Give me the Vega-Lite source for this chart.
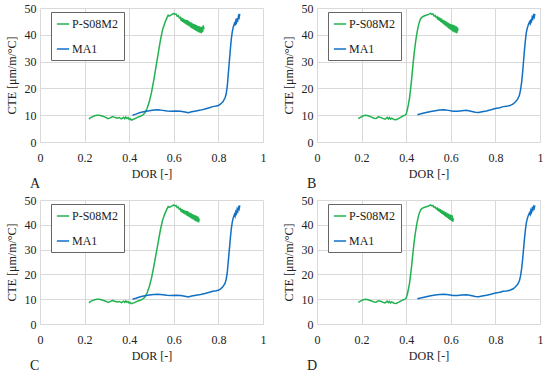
{
  "$schema": "https://vega.github.io/schema/vega-lite/v6.json",
  "padding": {"left": 5, "top": 2, "right": 0, "bottom": 0},
  "background": "white",
  "datasets": {
    "A": [
      {"s":"P-S08M2","x":0.220,"y":8.5},{"s":"P-S08M2","x":0.225,"y":9.0},{"s":"P-S08M2","x":0.235,"y":9.4},{"s":"P-S08M2","x":0.245,"y":9.8},{"s":"P-S08M2","x":0.255,"y":10.0},{"s":"P-S08M2","x":0.265,"y":10.0},{"s":"P-S08M2","x":0.275,"y":9.8},{"s":"P-S08M2","x":0.285,"y":9.5},{"s":"P-S08M2","x":0.295,"y":9.2},{"s":"P-S08M2","x":0.305,"y":8.7},{"s":"P-S08M2","x":0.315,"y":9.0},{"s":"P-S08M2","x":0.325,"y":9.5},{"s":"P-S08M2","x":0.335,"y":9.2},{"s":"P-S08M2","x":0.345,"y":8.9},{"s":"P-S08M2","x":0.355,"y":9.1},{"s":"P-S08M2","x":0.365,"y":8.6},{"s":"P-S08M2","x":0.375,"y":9.2},{"s":"P-S08M2","x":0.380,"y":8.7},{"s":"P-S08M2","x":0.385,"y":9.3},{"s":"P-S08M2","x":0.390,"y":8.8},{"s":"P-S08M2","x":0.395,"y":9.1},{"s":"P-S08M2","x":0.400,"y":8.4},{"s":"P-S08M2","x":0.405,"y":8.7},{"s":"P-S08M2","x":0.410,"y":8.2},{"s":"P-S08M2","x":0.420,"y":8.5},{"s":"P-S08M2","x":0.430,"y":8.9},{"s":"P-S08M2","x":0.440,"y":9.3},{"s":"P-S08M2","x":0.450,"y":9.6},{"s":"P-S08M2","x":0.460,"y":10.0},{"s":"P-S08M2","x":0.470,"y":10.8},{"s":"P-S08M2","x":0.480,"y":12.5},{"s":"P-S08M2","x":0.490,"y":15.0},{"s":"P-S08M2","x":0.500,"y":18.5},{"s":"P-S08M2","x":0.510,"y":23.0},{"s":"P-S08M2","x":0.520,"y":28.0},{"s":"P-S08M2","x":0.530,"y":33.0},{"s":"P-S08M2","x":0.540,"y":38.0},{"s":"P-S08M2","x":0.550,"y":42.0},{"s":"P-S08M2","x":0.560,"y":44.5},{"s":"P-S08M2","x":0.570,"y":46.5},{"s":"P-S08M2","x":0.575,"y":47.3},{"s":"P-S08M2","x":0.580,"y":47.0},{"s":"P-S08M2","x":0.590,"y":47.5},{"s":"P-S08M2","x":0.600,"y":48.0},{"s":"P-S08M2","x":0.605,"y":47.6},{"s":"P-S08M2","x":0.610,"y":47.8},{"s":"P-S08M2","x":0.615,"y":47.0},{"s":"P-S08M2","x":0.620,"y":47.2},{"s":"P-S08M2","x":0.625,"y":46.3},{"s":"P-S08M2","x":0.630,"y":46.5},{"s":"P-S08M2","x":0.633,"y":45.2},{"s":"P-S08M2","x":0.636,"y":46.3},{"s":"P-S08M2","x":0.639,"y":44.8},{"s":"P-S08M2","x":0.642,"y":46.0},{"s":"P-S08M2","x":0.645,"y":44.5},{"s":"P-S08M2","x":0.648,"y":45.8},{"s":"P-S08M2","x":0.651,"y":44.2},{"s":"P-S08M2","x":0.654,"y":45.6},{"s":"P-S08M2","x":0.657,"y":43.8},{"s":"P-S08M2","x":0.660,"y":45.5},{"s":"P-S08M2","x":0.663,"y":43.5},{"s":"P-S08M2","x":0.666,"y":45.2},{"s":"P-S08M2","x":0.669,"y":43.2},{"s":"P-S08M2","x":0.672,"y":44.8},{"s":"P-S08M2","x":0.675,"y":42.8},{"s":"P-S08M2","x":0.678,"y":44.6},{"s":"P-S08M2","x":0.681,"y":42.5},{"s":"P-S08M2","x":0.684,"y":44.3},{"s":"P-S08M2","x":0.687,"y":42.2},{"s":"P-S08M2","x":0.690,"y":44.0},{"s":"P-S08M2","x":0.693,"y":41.8},{"s":"P-S08M2","x":0.696,"y":43.8},{"s":"P-S08M2","x":0.699,"y":41.5},{"s":"P-S08M2","x":0.702,"y":43.6},{"s":"P-S08M2","x":0.705,"y":41.3},{"s":"P-S08M2","x":0.708,"y":43.3},{"s":"P-S08M2","x":0.711,"y":41.0},{"s":"P-S08M2","x":0.714,"y":43.2},{"s":"P-S08M2","x":0.717,"y":40.8},{"s":"P-S08M2","x":0.720,"y":43.0},{"s":"P-S08M2","x":0.723,"y":40.6},{"s":"P-S08M2","x":0.726,"y":43.0},{"s":"P-S08M2","x":0.729,"y":41.0},{"s":"P-S08M2","x":0.732,"y":43.5},{"s":"P-S08M2","x":0.735,"y":42.0},
      {"s":"MA1","x":0.415,"y":10.0},{"s":"MA1","x":0.430,"y":10.4},{"s":"MA1","x":0.450,"y":11.0},{"s":"MA1","x":0.470,"y":11.4},{"s":"MA1","x":0.490,"y":11.7},{"s":"MA1","x":0.510,"y":11.9},{"s":"MA1","x":0.530,"y":12.0},{"s":"MA1","x":0.550,"y":11.8},{"s":"MA1","x":0.570,"y":11.6},{"s":"MA1","x":0.590,"y":11.5},{"s":"MA1","x":0.610,"y":11.6},{"s":"MA1","x":0.630,"y":11.5},{"s":"MA1","x":0.650,"y":11.2},{"s":"MA1","x":0.665,"y":10.9},{"s":"MA1","x":0.680,"y":11.3},{"s":"MA1","x":0.700,"y":11.6},{"s":"MA1","x":0.720,"y":11.9},{"s":"MA1","x":0.740,"y":12.3},{"s":"MA1","x":0.760,"y":12.8},{"s":"MA1","x":0.775,"y":13.2},{"s":"MA1","x":0.790,"y":13.4},{"s":"MA1","x":0.800,"y":13.6},{"s":"MA1","x":0.810,"y":14.2},{"s":"MA1","x":0.820,"y":15.0},{"s":"MA1","x":0.830,"y":16.5},{"s":"MA1","x":0.835,"y":18.0},{"s":"MA1","x":0.840,"y":21.0},{"s":"MA1","x":0.843,"y":24.0},{"s":"MA1","x":0.847,"y":28.0},{"s":"MA1","x":0.850,"y":31.0},{"s":"MA1","x":0.854,"y":35.0},{"s":"MA1","x":0.858,"y":38.5},{"s":"MA1","x":0.862,"y":41.0},{"s":"MA1","x":0.867,"y":43.0},{"s":"MA1","x":0.872,"y":44.2},{"s":"MA1","x":0.875,"y":43.5},{"s":"MA1","x":0.878,"y":45.2},{"s":"MA1","x":0.881,"y":44.6},{"s":"MA1","x":0.884,"y":46.2},{"s":"MA1","x":0.887,"y":45.5},{"s":"MA1","x":0.890,"y":47.0},{"s":"MA1","x":0.893,"y":46.4},{"s":"MA1","x":0.896,"y":47.8}
    ],
    "C": [
      {"s":"P-S08M2","x":0.220,"y":8.5},{"s":"P-S08M2","x":0.225,"y":9.0},{"s":"P-S08M2","x":0.235,"y":9.4},{"s":"P-S08M2","x":0.245,"y":9.8},{"s":"P-S08M2","x":0.255,"y":10.0},{"s":"P-S08M2","x":0.265,"y":10.0},{"s":"P-S08M2","x":0.275,"y":9.8},{"s":"P-S08M2","x":0.285,"y":9.5},{"s":"P-S08M2","x":0.295,"y":9.2},{"s":"P-S08M2","x":0.305,"y":8.7},{"s":"P-S08M2","x":0.315,"y":9.0},{"s":"P-S08M2","x":0.325,"y":9.5},{"s":"P-S08M2","x":0.335,"y":9.2},{"s":"P-S08M2","x":0.345,"y":8.9},{"s":"P-S08M2","x":0.355,"y":9.1},{"s":"P-S08M2","x":0.365,"y":8.6},{"s":"P-S08M2","x":0.375,"y":9.2},{"s":"P-S08M2","x":0.380,"y":8.7},{"s":"P-S08M2","x":0.385,"y":9.3},{"s":"P-S08M2","x":0.390,"y":8.8},{"s":"P-S08M2","x":0.395,"y":9.1},{"s":"P-S08M2","x":0.400,"y":8.4},{"s":"P-S08M2","x":0.405,"y":8.7},{"s":"P-S08M2","x":0.410,"y":8.2},{"s":"P-S08M2","x":0.420,"y":8.5},{"s":"P-S08M2","x":0.430,"y":8.9},{"s":"P-S08M2","x":0.440,"y":9.3},{"s":"P-S08M2","x":0.450,"y":9.6},{"s":"P-S08M2","x":0.460,"y":10.0},{"s":"P-S08M2","x":0.470,"y":10.8},{"s":"P-S08M2","x":0.480,"y":12.5},{"s":"P-S08M2","x":0.490,"y":15.0},{"s":"P-S08M2","x":0.500,"y":18.5},{"s":"P-S08M2","x":0.510,"y":23.0},{"s":"P-S08M2","x":0.520,"y":28.0},{"s":"P-S08M2","x":0.530,"y":33.0},{"s":"P-S08M2","x":0.540,"y":38.0},{"s":"P-S08M2","x":0.550,"y":42.0},{"s":"P-S08M2","x":0.560,"y":44.5},{"s":"P-S08M2","x":0.570,"y":46.5},{"s":"P-S08M2","x":0.575,"y":47.3},{"s":"P-S08M2","x":0.580,"y":47.0},{"s":"P-S08M2","x":0.590,"y":47.5},{"s":"P-S08M2","x":0.600,"y":48.0},{"s":"P-S08M2","x":0.605,"y":47.6},{"s":"P-S08M2","x":0.610,"y":47.8},{"s":"P-S08M2","x":0.615,"y":47.0},{"s":"P-S08M2","x":0.620,"y":47.2},{"s":"P-S08M2","x":0.625,"y":46.3},{"s":"P-S08M2","x":0.630,"y":46.5},{"s":"P-S08M2","x":0.633,"y":45.2},{"s":"P-S08M2","x":0.636,"y":46.3},{"s":"P-S08M2","x":0.639,"y":44.8},{"s":"P-S08M2","x":0.642,"y":46.0},{"s":"P-S08M2","x":0.645,"y":44.5},{"s":"P-S08M2","x":0.648,"y":45.8},{"s":"P-S08M2","x":0.651,"y":44.2},{"s":"P-S08M2","x":0.654,"y":45.6},{"s":"P-S08M2","x":0.657,"y":43.8},{"s":"P-S08M2","x":0.660,"y":45.5},{"s":"P-S08M2","x":0.663,"y":43.5},{"s":"P-S08M2","x":0.666,"y":45.2},{"s":"P-S08M2","x":0.669,"y":43.2},{"s":"P-S08M2","x":0.672,"y":44.8},{"s":"P-S08M2","x":0.675,"y":42.8},{"s":"P-S08M2","x":0.678,"y":44.6},{"s":"P-S08M2","x":0.681,"y":42.5},{"s":"P-S08M2","x":0.684,"y":44.3},{"s":"P-S08M2","x":0.687,"y":42.2},{"s":"P-S08M2","x":0.690,"y":44.0},{"s":"P-S08M2","x":0.693,"y":41.8},{"s":"P-S08M2","x":0.696,"y":43.8},{"s":"P-S08M2","x":0.699,"y":41.5},{"s":"P-S08M2","x":0.702,"y":43.6},{"s":"P-S08M2","x":0.705,"y":41.3},{"s":"P-S08M2","x":0.708,"y":43.3},{"s":"P-S08M2","x":0.711,"y":41.0},{"s":"P-S08M2","x":0.714,"y":42.6},
      {"s":"MA1","x":0.415,"y":10.0},{"s":"MA1","x":0.430,"y":10.4},{"s":"MA1","x":0.450,"y":11.0},{"s":"MA1","x":0.470,"y":11.4},{"s":"MA1","x":0.490,"y":11.7},{"s":"MA1","x":0.510,"y":11.9},{"s":"MA1","x":0.530,"y":12.0},{"s":"MA1","x":0.550,"y":11.8},{"s":"MA1","x":0.570,"y":11.6},{"s":"MA1","x":0.590,"y":11.5},{"s":"MA1","x":0.610,"y":11.6},{"s":"MA1","x":0.630,"y":11.5},{"s":"MA1","x":0.650,"y":11.2},{"s":"MA1","x":0.665,"y":10.9},{"s":"MA1","x":0.680,"y":11.3},{"s":"MA1","x":0.700,"y":11.6},{"s":"MA1","x":0.720,"y":11.9},{"s":"MA1","x":0.740,"y":12.3},{"s":"MA1","x":0.760,"y":12.8},{"s":"MA1","x":0.775,"y":13.2},{"s":"MA1","x":0.790,"y":13.4},{"s":"MA1","x":0.800,"y":13.6},{"s":"MA1","x":0.810,"y":14.2},{"s":"MA1","x":0.820,"y":15.0},{"s":"MA1","x":0.830,"y":16.5},{"s":"MA1","x":0.835,"y":18.0},{"s":"MA1","x":0.840,"y":21.0},{"s":"MA1","x":0.843,"y":24.0},{"s":"MA1","x":0.847,"y":28.0},{"s":"MA1","x":0.850,"y":31.0},{"s":"MA1","x":0.854,"y":35.0},{"s":"MA1","x":0.858,"y":38.5},{"s":"MA1","x":0.862,"y":41.0},{"s":"MA1","x":0.867,"y":43.0},{"s":"MA1","x":0.872,"y":44.2},{"s":"MA1","x":0.875,"y":43.5},{"s":"MA1","x":0.878,"y":45.2},{"s":"MA1","x":0.881,"y":44.6},{"s":"MA1","x":0.884,"y":46.2},{"s":"MA1","x":0.887,"y":45.5},{"s":"MA1","x":0.890,"y":47.0},{"s":"MA1","x":0.893,"y":46.4},{"s":"MA1","x":0.896,"y":47.8}
    ],
    "B": [
      {"s":"P-S08M2","x":0.185,"y":8.7},{"s":"P-S08M2","x":0.195,"y":9.2},{"s":"P-S08M2","x":0.205,"y":9.7},{"s":"P-S08M2","x":0.215,"y":10.0},{"s":"P-S08M2","x":0.225,"y":9.9},{"s":"P-S08M2","x":0.235,"y":9.6},{"s":"P-S08M2","x":0.245,"y":9.3},{"s":"P-S08M2","x":0.255,"y":8.9},{"s":"P-S08M2","x":0.265,"y":8.8},{"s":"P-S08M2","x":0.275,"y":9.4},{"s":"P-S08M2","x":0.285,"y":9.2},{"s":"P-S08M2","x":0.295,"y":8.8},{"s":"P-S08M2","x":0.305,"y":8.5},{"s":"P-S08M2","x":0.315,"y":9.2},{"s":"P-S08M2","x":0.320,"y":8.6},{"s":"P-S08M2","x":0.325,"y":9.1},{"s":"P-S08M2","x":0.330,"y":8.5},{"s":"P-S08M2","x":0.335,"y":8.9},{"s":"P-S08M2","x":0.345,"y":8.4},{"s":"P-S08M2","x":0.355,"y":8.3},{"s":"P-S08M2","x":0.365,"y":8.7},{"s":"P-S08M2","x":0.375,"y":9.2},{"s":"P-S08M2","x":0.385,"y":9.7},{"s":"P-S08M2","x":0.395,"y":10.0},{"s":"P-S08M2","x":0.400,"y":10.5},{"s":"P-S08M2","x":0.405,"y":12.0},{"s":"P-S08M2","x":0.410,"y":14.0},{"s":"P-S08M2","x":0.415,"y":16.5},{"s":"P-S08M2","x":0.420,"y":20.0},{"s":"P-S08M2","x":0.425,"y":24.0},{"s":"P-S08M2","x":0.430,"y":28.5},{"s":"P-S08M2","x":0.435,"y":32.5},{"s":"P-S08M2","x":0.440,"y":36.0},{"s":"P-S08M2","x":0.445,"y":39.0},{"s":"P-S08M2","x":0.450,"y":41.5},{"s":"P-S08M2","x":0.455,"y":43.5},{"s":"P-S08M2","x":0.460,"y":45.0},{"s":"P-S08M2","x":0.465,"y":46.0},{"s":"P-S08M2","x":0.470,"y":46.5},{"s":"P-S08M2","x":0.480,"y":47.0},{"s":"P-S08M2","x":0.490,"y":47.3},{"s":"P-S08M2","x":0.500,"y":47.6},{"s":"P-S08M2","x":0.510,"y":48.0},{"s":"P-S08M2","x":0.515,"y":47.6},{"s":"P-S08M2","x":0.520,"y":47.8},{"s":"P-S08M2","x":0.525,"y":47.0},{"s":"P-S08M2","x":0.530,"y":47.2},{"s":"P-S08M2","x":0.535,"y":46.4},{"s":"P-S08M2","x":0.540,"y":46.7},{"s":"P-S08M2","x":0.543,"y":45.6},{"s":"P-S08M2","x":0.546,"y":46.6},{"s":"P-S08M2","x":0.549,"y":45.2},{"s":"P-S08M2","x":0.552,"y":46.3},{"s":"P-S08M2","x":0.555,"y":44.8},{"s":"P-S08M2","x":0.558,"y":46.0},{"s":"P-S08M2","x":0.561,"y":44.4},{"s":"P-S08M2","x":0.564,"y":45.7},{"s":"P-S08M2","x":0.567,"y":44.0},{"s":"P-S08M2","x":0.570,"y":45.4},{"s":"P-S08M2","x":0.573,"y":43.6},{"s":"P-S08M2","x":0.576,"y":45.1},{"s":"P-S08M2","x":0.579,"y":43.2},{"s":"P-S08M2","x":0.582,"y":44.8},{"s":"P-S08M2","x":0.585,"y":42.8},{"s":"P-S08M2","x":0.588,"y":44.5},{"s":"P-S08M2","x":0.591,"y":42.4},{"s":"P-S08M2","x":0.594,"y":44.2},{"s":"P-S08M2","x":0.597,"y":42.0},{"s":"P-S08M2","x":0.600,"y":44.0},{"s":"P-S08M2","x":0.603,"y":41.6},{"s":"P-S08M2","x":0.606,"y":43.8},{"s":"P-S08M2","x":0.609,"y":41.3},{"s":"P-S08M2","x":0.612,"y":43.6},{"s":"P-S08M2","x":0.615,"y":41.0},{"s":"P-S08M2","x":0.618,"y":43.4},{"s":"P-S08M2","x":0.621,"y":40.8},{"s":"P-S08M2","x":0.624,"y":43.2},{"s":"P-S08M2","x":0.627,"y":40.6},{"s":"P-S08M2","x":0.630,"y":42.8},{"s":"P-S08M2","x":0.632,"y":41.5},
      {"s":"MA1","x":0.450,"y":10.2},{"s":"MA1","x":0.470,"y":10.6},{"s":"MA1","x":0.490,"y":11.0},{"s":"MA1","x":0.510,"y":11.4},{"s":"MA1","x":0.530,"y":11.7},{"s":"MA1","x":0.550,"y":11.9},{"s":"MA1","x":0.570,"y":12.0},{"s":"MA1","x":0.590,"y":11.8},{"s":"MA1","x":0.610,"y":11.5},{"s":"MA1","x":0.630,"y":11.5},{"s":"MA1","x":0.650,"y":11.7},{"s":"MA1","x":0.670,"y":11.8},{"s":"MA1","x":0.690,"y":11.5},{"s":"MA1","x":0.710,"y":11.1},{"s":"MA1","x":0.725,"y":11.0},{"s":"MA1","x":0.740,"y":11.3},{"s":"MA1","x":0.760,"y":11.6},{"s":"MA1","x":0.780,"y":12.0},{"s":"MA1","x":0.800,"y":12.5},{"s":"MA1","x":0.820,"y":12.8},{"s":"MA1","x":0.835,"y":13.2},{"s":"MA1","x":0.850,"y":13.3},{"s":"MA1","x":0.865,"y":13.6},{"s":"MA1","x":0.880,"y":14.2},{"s":"MA1","x":0.890,"y":15.0},{"s":"MA1","x":0.900,"y":16.0},{"s":"MA1","x":0.908,"y":17.5},{"s":"MA1","x":0.913,"y":19.5},{"s":"MA1","x":0.918,"y":22.5},{"s":"MA1","x":0.922,"y":26.0},{"s":"MA1","x":0.926,"y":30.0},{"s":"MA1","x":0.930,"y":34.0},{"s":"MA1","x":0.934,"y":37.5},{"s":"MA1","x":0.938,"y":40.5},{"s":"MA1","x":0.943,"y":42.5},{"s":"MA1","x":0.948,"y":43.8},{"s":"MA1","x":0.953,"y":44.8},{"s":"MA1","x":0.956,"y":44.2},{"s":"MA1","x":0.959,"y":45.8},{"s":"MA1","x":0.962,"y":45.1},{"s":"MA1","x":0.965,"y":46.6},{"s":"MA1","x":0.968,"y":46.0},{"s":"MA1","x":0.971,"y":47.2},{"s":"MA1","x":0.974,"y":46.6},{"s":"MA1","x":0.977,"y":47.8}
    ],
    "D": [
      {"s":"P-S08M2","x":0.185,"y":8.7},{"s":"P-S08M2","x":0.195,"y":9.2},{"s":"P-S08M2","x":0.205,"y":9.7},{"s":"P-S08M2","x":0.215,"y":10.0},{"s":"P-S08M2","x":0.225,"y":9.9},{"s":"P-S08M2","x":0.235,"y":9.6},{"s":"P-S08M2","x":0.245,"y":9.3},{"s":"P-S08M2","x":0.255,"y":8.9},{"s":"P-S08M2","x":0.265,"y":8.8},{"s":"P-S08M2","x":0.275,"y":9.4},{"s":"P-S08M2","x":0.285,"y":9.2},{"s":"P-S08M2","x":0.295,"y":8.8},{"s":"P-S08M2","x":0.305,"y":8.5},{"s":"P-S08M2","x":0.315,"y":9.2},{"s":"P-S08M2","x":0.320,"y":8.6},{"s":"P-S08M2","x":0.325,"y":9.1},{"s":"P-S08M2","x":0.330,"y":8.5},{"s":"P-S08M2","x":0.335,"y":8.9},{"s":"P-S08M2","x":0.345,"y":8.4},{"s":"P-S08M2","x":0.355,"y":8.3},{"s":"P-S08M2","x":0.365,"y":8.7},{"s":"P-S08M2","x":0.375,"y":9.2},{"s":"P-S08M2","x":0.385,"y":9.7},{"s":"P-S08M2","x":0.395,"y":10.0},{"s":"P-S08M2","x":0.400,"y":10.5},{"s":"P-S08M2","x":0.405,"y":12.0},{"s":"P-S08M2","x":0.410,"y":14.0},{"s":"P-S08M2","x":0.415,"y":16.5},{"s":"P-S08M2","x":0.420,"y":20.0},{"s":"P-S08M2","x":0.425,"y":24.0},{"s":"P-S08M2","x":0.430,"y":28.5},{"s":"P-S08M2","x":0.435,"y":32.5},{"s":"P-S08M2","x":0.440,"y":36.0},{"s":"P-S08M2","x":0.445,"y":39.0},{"s":"P-S08M2","x":0.450,"y":41.5},{"s":"P-S08M2","x":0.455,"y":43.5},{"s":"P-S08M2","x":0.460,"y":45.0},{"s":"P-S08M2","x":0.465,"y":46.0},{"s":"P-S08M2","x":0.470,"y":46.5},{"s":"P-S08M2","x":0.480,"y":47.0},{"s":"P-S08M2","x":0.490,"y":47.3},{"s":"P-S08M2","x":0.500,"y":47.6},{"s":"P-S08M2","x":0.510,"y":48.0},{"s":"P-S08M2","x":0.515,"y":47.6},{"s":"P-S08M2","x":0.520,"y":47.8},{"s":"P-S08M2","x":0.525,"y":47.0},{"s":"P-S08M2","x":0.530,"y":47.2},{"s":"P-S08M2","x":0.535,"y":46.4},{"s":"P-S08M2","x":0.540,"y":46.7},{"s":"P-S08M2","x":0.543,"y":45.6},{"s":"P-S08M2","x":0.546,"y":46.6},{"s":"P-S08M2","x":0.549,"y":45.2},{"s":"P-S08M2","x":0.552,"y":46.3},{"s":"P-S08M2","x":0.555,"y":44.8},{"s":"P-S08M2","x":0.558,"y":46.0},{"s":"P-S08M2","x":0.561,"y":44.4},{"s":"P-S08M2","x":0.564,"y":45.7},{"s":"P-S08M2","x":0.567,"y":44.0},{"s":"P-S08M2","x":0.570,"y":45.4},{"s":"P-S08M2","x":0.573,"y":43.6},{"s":"P-S08M2","x":0.576,"y":45.1},{"s":"P-S08M2","x":0.579,"y":43.2},{"s":"P-S08M2","x":0.582,"y":44.8},{"s":"P-S08M2","x":0.585,"y":42.8},{"s":"P-S08M2","x":0.588,"y":44.5},{"s":"P-S08M2","x":0.591,"y":42.4},{"s":"P-S08M2","x":0.594,"y":44.2},{"s":"P-S08M2","x":0.597,"y":42.0},{"s":"P-S08M2","x":0.600,"y":44.0},{"s":"P-S08M2","x":0.603,"y":41.6},{"s":"P-S08M2","x":0.606,"y":43.8},{"s":"P-S08M2","x":0.609,"y":41.3},{"s":"P-S08M2","x":0.612,"y":42.6},
      {"s":"MA1","x":0.450,"y":10.2},{"s":"MA1","x":0.470,"y":10.6},{"s":"MA1","x":0.490,"y":11.0},{"s":"MA1","x":0.510,"y":11.4},{"s":"MA1","x":0.530,"y":11.7},{"s":"MA1","x":0.550,"y":11.9},{"s":"MA1","x":0.570,"y":12.0},{"s":"MA1","x":0.590,"y":11.8},{"s":"MA1","x":0.610,"y":11.5},{"s":"MA1","x":0.630,"y":11.5},{"s":"MA1","x":0.650,"y":11.7},{"s":"MA1","x":0.670,"y":11.8},{"s":"MA1","x":0.690,"y":11.5},{"s":"MA1","x":0.710,"y":11.1},{"s":"MA1","x":0.725,"y":11.0},{"s":"MA1","x":0.740,"y":11.3},{"s":"MA1","x":0.760,"y":11.6},{"s":"MA1","x":0.780,"y":12.0},{"s":"MA1","x":0.800,"y":12.5},{"s":"MA1","x":0.820,"y":12.8},{"s":"MA1","x":0.835,"y":13.2},{"s":"MA1","x":0.850,"y":13.3},{"s":"MA1","x":0.865,"y":13.6},{"s":"MA1","x":0.880,"y":14.2},{"s":"MA1","x":0.890,"y":15.0},{"s":"MA1","x":0.900,"y":16.0},{"s":"MA1","x":0.908,"y":17.5},{"s":"MA1","x":0.913,"y":19.5},{"s":"MA1","x":0.918,"y":22.5},{"s":"MA1","x":0.922,"y":26.0},{"s":"MA1","x":0.926,"y":30.0},{"s":"MA1","x":0.930,"y":34.0},{"s":"MA1","x":0.934,"y":37.5},{"s":"MA1","x":0.938,"y":40.5},{"s":"MA1","x":0.943,"y":42.5},{"s":"MA1","x":0.948,"y":43.8},{"s":"MA1","x":0.953,"y":44.8},{"s":"MA1","x":0.956,"y":44.2},{"s":"MA1","x":0.959,"y":45.8},{"s":"MA1","x":0.962,"y":45.1},{"s":"MA1","x":0.965,"y":46.6},{"s":"MA1","x":0.968,"y":46.0},{"s":"MA1","x":0.971,"y":47.2},{"s":"MA1","x":0.974,"y":46.6},{"s":"MA1","x":0.977,"y":47.8}
    ]
  },
  "vconcat": [
    {
      "hconcat": [
        {
          "width": 223, "height": 134,
          "data": {"name": "A"},
          "title": {"text": "A", "orient": "bottom", "anchor": "start", "frame": "group", "dx": -10, "offset": -2},
          "mark": {"type": "line", "strokeWidth": 1.5},
          "encoding": {
            "x": {"field": "x", "type": "quantitative", "scale": {"domain": [0, 1], "nice": false}, "axis": {"values": [0, 0.2, 0.4, 0.6, 0.8, 1], "format": "~g", "title": "DOR [-]"}},
            "y": {"field": "y", "type": "quantitative", "scale": {"domain": [0, 50], "nice": false}, "axis": {"values": [0, 10, 20, 30, 40, 50], "title": "CTE [μm/m/°C]"}},
            "color": {"field": "s", "type": "nominal", "scale": {"domain": ["P-S08M2", "MA1"], "range": ["#22b24f", "#1170c4"]}, "legend": {"orient": "none", "legendX": 11, "legendY": 4}}
          }
        },
        {
          "width": 223, "height": 134,
          "data": {"name": "B"},
          "title": {"text": "B", "orient": "bottom", "anchor": "start", "frame": "group", "dx": -10, "offset": -2},
          "mark": {"type": "line", "strokeWidth": 1.5},
          "encoding": {
            "x": {"field": "x", "type": "quantitative", "scale": {"domain": [0, 1], "nice": false}, "axis": {"values": [0, 0.2, 0.4, 0.6, 0.8, 1], "format": "~g", "title": "DOR [-]"}},
            "y": {"field": "y", "type": "quantitative", "scale": {"domain": [0, 50], "nice": false}, "axis": {"values": [0, 10, 20, 30, 40, 50], "title": "CTE [μm/m/°C]"}},
            "color": {"field": "s", "type": "nominal", "scale": {"domain": ["P-S08M2", "MA1"], "range": ["#22b24f", "#1170c4"]}, "legend": {"orient": "none", "legendX": 11, "legendY": 4}}
          }
        }
      ],
      "spacing": 16,
      "resolve": {"scale": {"color": "independent"}, "legend": {"color": "independent"}}
    },
    {
      "hconcat": [
        {
          "width": 223, "height": 124,
          "data": {"name": "C"},
          "title": {"text": "C", "orient": "bottom", "anchor": "start", "frame": "group", "dx": -10, "offset": -2},
          "mark": {"type": "line", "strokeWidth": 1.5},
          "encoding": {
            "x": {"field": "x", "type": "quantitative", "scale": {"domain": [0, 1], "nice": false}, "axis": {"values": [0, 0.2, 0.4, 0.6, 0.8, 1], "format": "~g", "title": "DOR [-]"}},
            "y": {"field": "y", "type": "quantitative", "scale": {"domain": [0, 50], "nice": false}, "axis": {"values": [0, 10, 20, 30, 40, 50], "title": "CTE [μm/m/°C]"}},
            "color": {"field": "s", "type": "nominal", "scale": {"domain": ["P-S08M2", "MA1"], "range": ["#22b24f", "#1170c4"]}, "legend": {"orient": "none", "legendX": 11, "legendY": 4}}
          }
        },
        {
          "width": 223, "height": 124,
          "data": {"name": "D"},
          "title": {"text": "D", "orient": "bottom", "anchor": "start", "frame": "group", "dx": -10, "offset": -2},
          "mark": {"type": "line", "strokeWidth": 1.5},
          "encoding": {
            "x": {"field": "x", "type": "quantitative", "scale": {"domain": [0, 1], "nice": false}, "axis": {"values": [0, 0.2, 0.4, 0.6, 0.8, 1], "format": "~g", "title": "DOR [-]"}},
            "y": {"field": "y", "type": "quantitative", "scale": {"domain": [0, 50], "nice": false}, "axis": {"values": [0, 10, 20, 30, 40, 50], "title": "CTE [μm/m/°C]"}},
            "color": {"field": "s", "type": "nominal", "scale": {"domain": ["P-S08M2", "MA1"], "range": ["#22b24f", "#1170c4"]}, "legend": {"orient": "none", "legendX": 11, "legendY": 4}}
          }
        }
      ],
      "spacing": 16,
      "resolve": {"scale": {"color": "independent"}, "legend": {"color": "independent"}}
    }
  ],
  "spacing": 3,
  "resolve": {"scale": {"color": "independent"}, "legend": {"color": "independent"}},
  "config": {
    "font": "Liberation Serif",
    "view": {"stroke": null},
    "axis": {"labelFont": "Liberation Serif", "titleFont": "Liberation Serif", "labelFontSize": 12, "titleFontSize": 12, "titleFontWeight": "normal", "labelColor": "#222", "titleColor": "#222", "ticks": false, "domain": false, "gridColor": "#d9d9d9", "gridWidth": 1},
    "axisX": {"labelPadding": 10, "titlePadding": 5, "labelFlush": false},
    "axisY": {"labelPadding": 4, "titlePadding": 6},
    "title": {"font": "Liberation Serif", "fontSize": 14, "fontWeight": "normal", "color": "#222"},
    "legend": {"title": null, "labelFont": "Liberation Serif", "labelFontSize": 12, "labelFontWeight": "normal", "labelColor": "#222", "symbolType": "stroke", "symbolSize": 150, "symbolStrokeWidth": 1.5, "strokeColor": "#666", "fillColor": "white", "padding": 5, "rowPadding": 12, "labelOffset": 2}
  }
}
